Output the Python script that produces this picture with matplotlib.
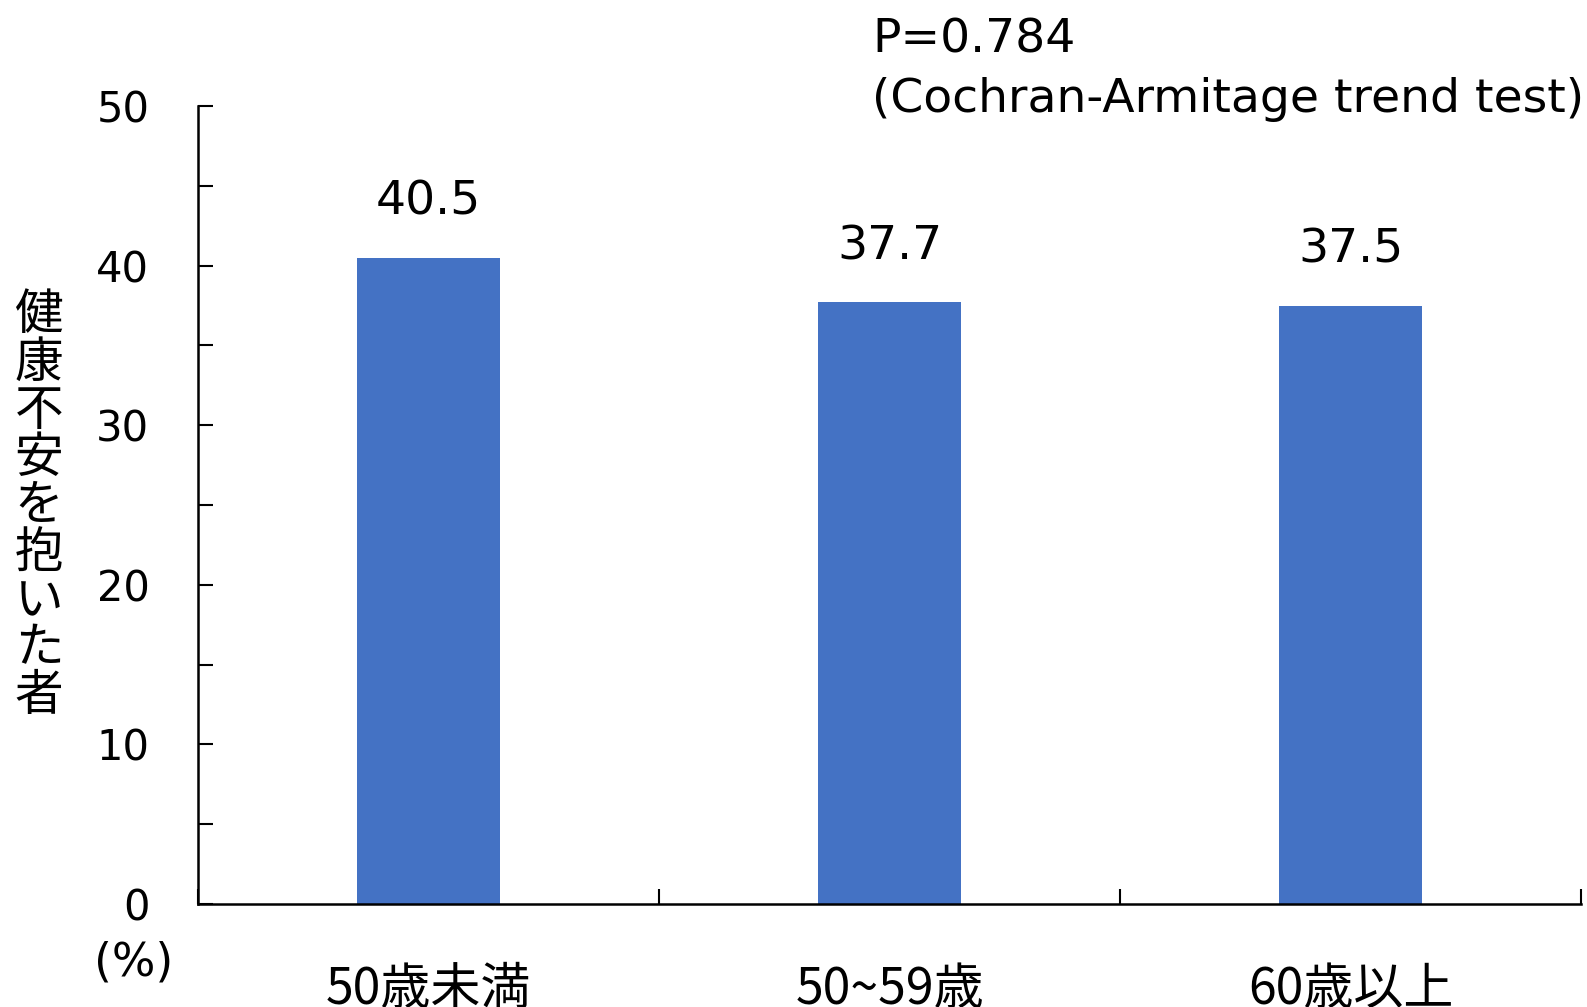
import matplotlib
matplotlib.use('Agg')
import matplotlib.pyplot as plt
from matplotlib.ticker import MultipleLocator, FixedLocator

plt.rcParams['font.family'] = ['DejaVu Sans', 'Noto Sans CJK JP']

categories = ['50歳未満', '50~59歳', '60歳以上']
values = [40.5, 37.7, 37.5]
y_label = '健康不安を抱いた者'
p_text = 'P=0.784'
test_text = '(Cochran-Armitage trend test)'

bar_color = '#4472C4'
jp_font = ['Noto Sans CJK JP', 'DejaVu Sans']

fig = plt.figure(figsize=(15.87, 10.07), dpi=100)
ax = fig.add_axes([198/1587, 1 - 904/1007, (1581 - 198)/1587, (904 - 106)/1007])

x = list(range(len(categories)))
ax.bar(x, values, width=0.31, color=bar_color, zorder=2)

for xi, v in zip(x, values):
    ax.annotate(f'{v:.1f}', (xi, v), xytext=(0, 31), textcoords='offset points',
                ha='center', va='baseline', fontsize=34)

ax.set_xlim(-0.5, len(categories) - 0.5)
ax.set_ylim(0, 50)

ax.yaxis.set_major_locator(MultipleLocator(10))
ax.yaxis.set_minor_locator(MultipleLocator(5))
ax.tick_params(axis='y', which='both', direction='in', length=11, width=1.5,
               labelsize=30, pad=35)

ax.set_xticks(x)
ax.set_xticklabels(categories, fontsize=36, family=jp_font)
ax.xaxis.set_minor_locator(FixedLocator([i - 0.5 for i in range(len(categories) + 1)]))
ax.tick_params(axis='x', which='major', length=0, pad=43)
ax.tick_params(axis='x', which='minor', direction='in', length=11, width=1.5)

for side in ['top', 'right']:
    ax.spines[side].set_visible(False)
for side in ['left', 'bottom']:
    ax.spines[side].set_linewidth(1.8)

fig.text(39/1587, 1 - 506/1007, '\n'.join(y_label), ha='center', va='center',
         fontsize=35, family=jp_font, linespacing=0.95)
fig.text(134/1587, 1 - 963/1007, '(%)', ha='center', va='center', fontsize=33)

fig.text(872/1587, 1 - 53/1007, p_text, ha='left', va='baseline', fontsize=34)
fig.text(872/1587, 1 - 112/1007, test_text, ha='left', va='baseline', fontsize=34)

fig.savefig('out.png', dpi=100)
